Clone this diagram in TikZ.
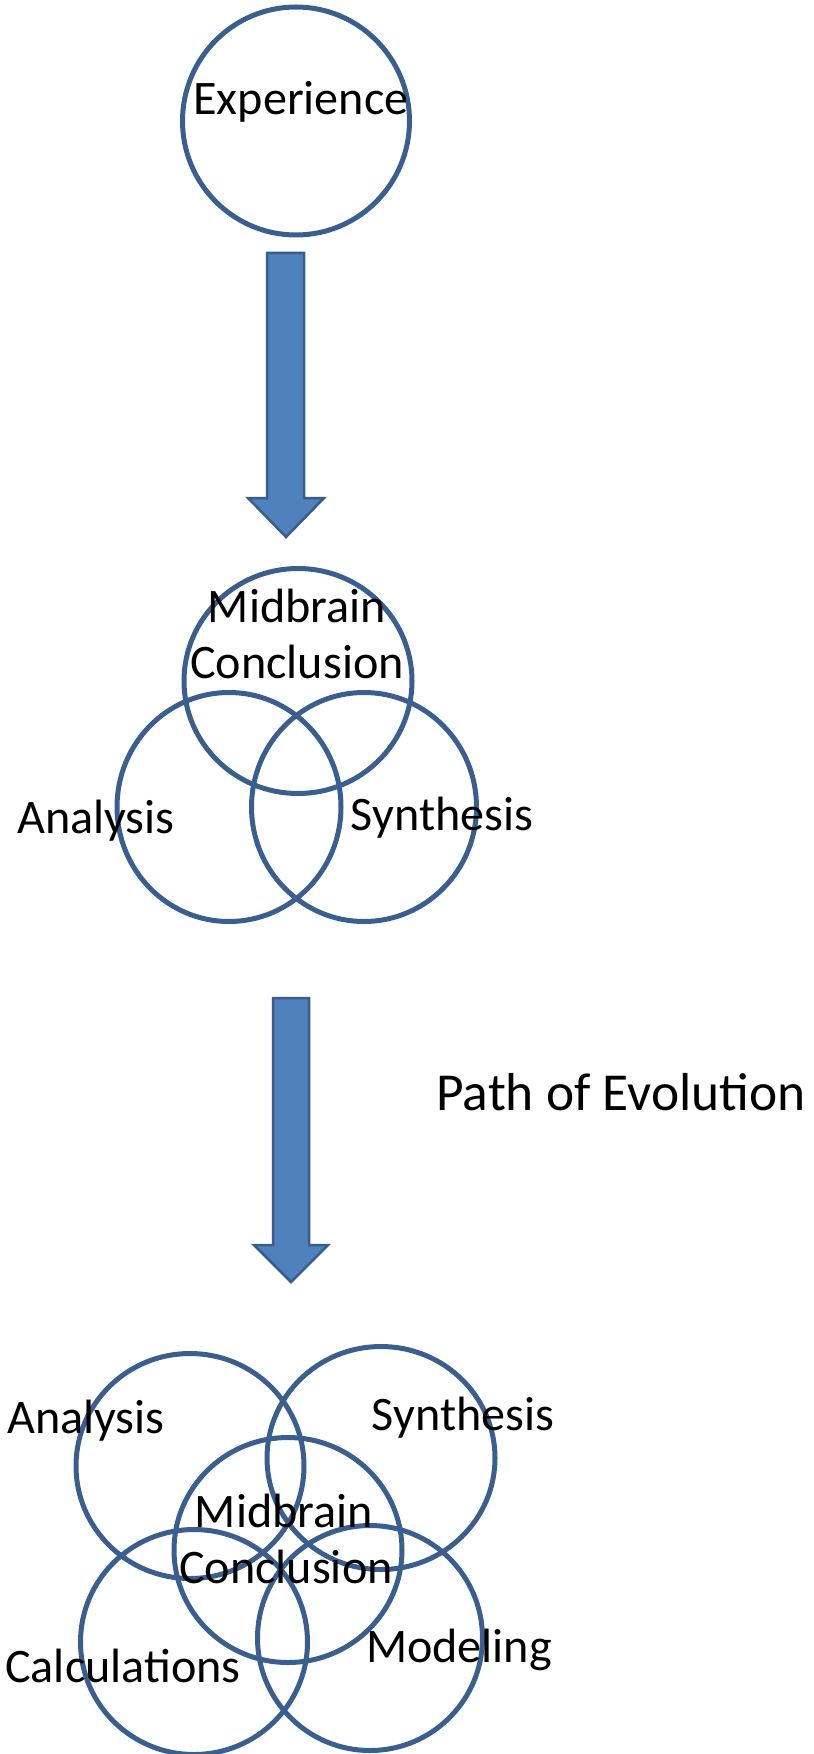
\documentclass[tikz,border=0pt]{standalone}
\usepackage{fontspec}
\setmainfont{Carlito}
\usetikzlibrary{shapes.geometric}
\definecolor{evoLine}{HTML}{3A5F8E}
\definecolor{evoFill}{HTML}{4F81BD}
\definecolor{evoEdge}{HTML}{385D8A}
\tikzset{
  ring/.style={ellipse, draw=evoLine, line width=0.5mm, minimum width=22.6mm,
              minimum height=22.6mm, inner sep=0pt},
  lbl/.style={anchor=base, inner sep=0pt, font=\fontsize{13.7}{16}\selectfont},
  bigarrow/.style={draw=evoEdge, fill=evoFill, line width=0.25mm, line join=miter},
}

\begin{document}
\begin{tikzpicture}[x=0.1mm,y=-0.1mm]
  \useasboundingbox (0,0) rectangle (813,1754);

  % experience
  \node[ring,minimum width=22.7mm,minimum height=22.8mm] (exp) at (296,121){};
  \node[lbl] (expT) at (301,115){Experience};

  % first arrow
  \draw[bigarrow] (267,253) -- (304,253) -- (304,498) -- (324,498) -- (286,537)
    -- (248,498) -- (267,498) -- cycle;

  % three circles
  \node[ring,minimum width=22.8mm,minimum height=22.5mm] (midTop) at (298,681){};
  \node[ring,minimum width=22.4mm,minimum height=22.9mm] (midL) at (229,807){};
  \node[ring,minimum width=22.5mm,minimum height=22.9mm] (midR) at (364,807){};
  \node[lbl] (midbrainA) at (297,622){Midbrain};
  \node[lbl] (conclA) at (297,678){Conclusion};
  \node[lbl] (analA) at (96,833){Analysis};
  \node[lbl] (synA) at (442,830){Synthesis};

  % second arrow
  \draw[bigarrow] (273,998) -- (309,998) -- (309,1245) -- (328,1245) -- (291,1282)
    -- (254,1245) -- (273,1245) -- cycle;
  \node[lbl,font=\fontsize{15.2}{18}\selectfont] (path) at (621,1110){Path of Evolution};

  % five circles
  \node[ring,minimum width=22.8mm,minimum height=22.5mm] (botA) at (190,1466){};
  \node[ring,minimum width=22.8mm,minimum height=22.3mm] (botS) at (381,1458){};
  \node[ring,minimum width=22.8mm,minimum height=22.5mm] (botC) at (288,1550){};
  \node[ring,minimum width=22.7mm,minimum height=22.5mm] (botCa) at (194,1642){};
  \node[ring,minimum width=22.5mm,minimum height=22.5mm] (botM) at (370,1638){};
  \node[lbl] (analB) at (86,1433){Analysis};
  \node[lbl] (synB) at (463,1430){Synthesis};
  \node[lbl] (midbrainB) at (284,1527){Midbrain};
  \node[lbl] (conclB) at (286,1583){Conclusion};
  \node[lbl] (calcB) at (123,1682){Calculations};
  \node[lbl] (modB) at (459,1662){Modeling};
\end{tikzpicture}
\end{document}
